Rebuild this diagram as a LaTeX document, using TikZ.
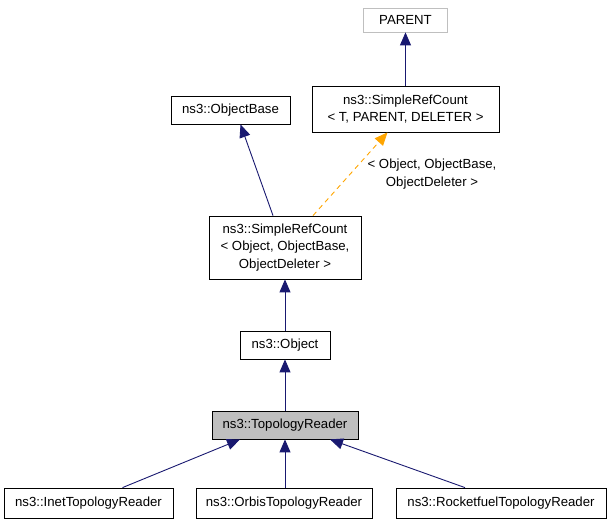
\documentclass[tikz,border=0pt]{standalone}
\usepackage{fontspec}
\setmainfont{Liberation Sans}
\usetikzlibrary{arrows.meta,calc}
\definecolor{edgeblue}{RGB}{25,25,112}
\definecolor{tmplorange}{RGB}{255,165,0}
\definecolor{boxgray}{RGB}{191,191,191}
\tikzset{
  cls/.style={draw=black,fill=white,inner sep=0pt,align=center,font=\fontsize{13.2}{17.7}\selectfont,line width=0.8pt},
  inh/.style={draw=edgeblue,line width=0.9pt,-{Triangle[length=13pt,width=11pt]}},
  tmpl/.style={draw=tmplorange,dashed,dash pattern=on 5pt off 4pt,line width=0.9pt,-{Triangle[length=13pt,width=11pt]}}
}
\begin{document}
\begin{tikzpicture}[x=1pt,y=-1pt]
  \useasboundingbox (0,0) rectangle (611,525);
  % classes
  \node[cls,draw=boxgray,minimum width=84pt,minimum height=24pt] (parent) at (405.5,20) {PARENT};
  \node[cls,minimum width=187pt,minimum height=46pt] (srct) at (405.5,109) {ns3::SimpleRefCount\\\textless{} T, PARENT, DELETER \textgreater};
  \node[cls,minimum width=119pt,minimum height=28pt] (objbase) at (230.5,110) {ns3::ObjectBase};
  \node[cls,minimum width=152pt,minimum height=63pt] (srcobj) at (285,247.5) {ns3::SimpleRefCount\\\textless{} Object, ObjectBase,\\ObjectDeleter \textgreater};
  \node[cls,minimum width=90pt,minimum height=28pt] (object) at (285,345) {ns3::Object};
  \node[cls,fill=boxgray,minimum width=146pt,minimum height=28pt] (topo) at (285,425) {ns3::TopologyReader};
  \node[cls,minimum width=169pt,minimum height=30pt] (inet) at (88.5,503) {ns3::InetTopologyReader};
  \node[cls,minimum width=176pt,minimum height=30pt] (orbis) at (284,503) {ns3::OrbisTopologyReader};
  \node[cls,minimum width=210pt,minimum height=30pt] (rocket) at (501,503) {ns3::RocketfuelTopologyReader};
  \node[align=center,inner sep=0pt,font=\fontsize{13.2}{17.7}\selectfont] (tlabel) at (432,174) {\textless{} Object, ObjectBase,\\ObjectDeleter \textgreater};

  % inheritance
  \draw[inh] (srct) -- (parent);
  \draw[inh] ([xshift=-12pt]srcobj.north) -- ([xshift=10pt]objbase.south);
  \draw[tmpl] ([xshift=28pt]srcobj.north) -- ([xshift=-18pt]srct.south);
  \draw[inh] (object) -- (srcobj);
  \draw[inh] (topo) -- (object);
  \draw[inh] ([xshift=34pt]inet.north) -- ([xshift=-45pt]topo.south);
  \draw[inh] (orbis.north -| topo.south) -- (topo.south);
  \draw[inh] ([xshift=-36pt]rocket.north) -- ([xshift=45pt]topo.south);
\end{tikzpicture}
\end{document}
